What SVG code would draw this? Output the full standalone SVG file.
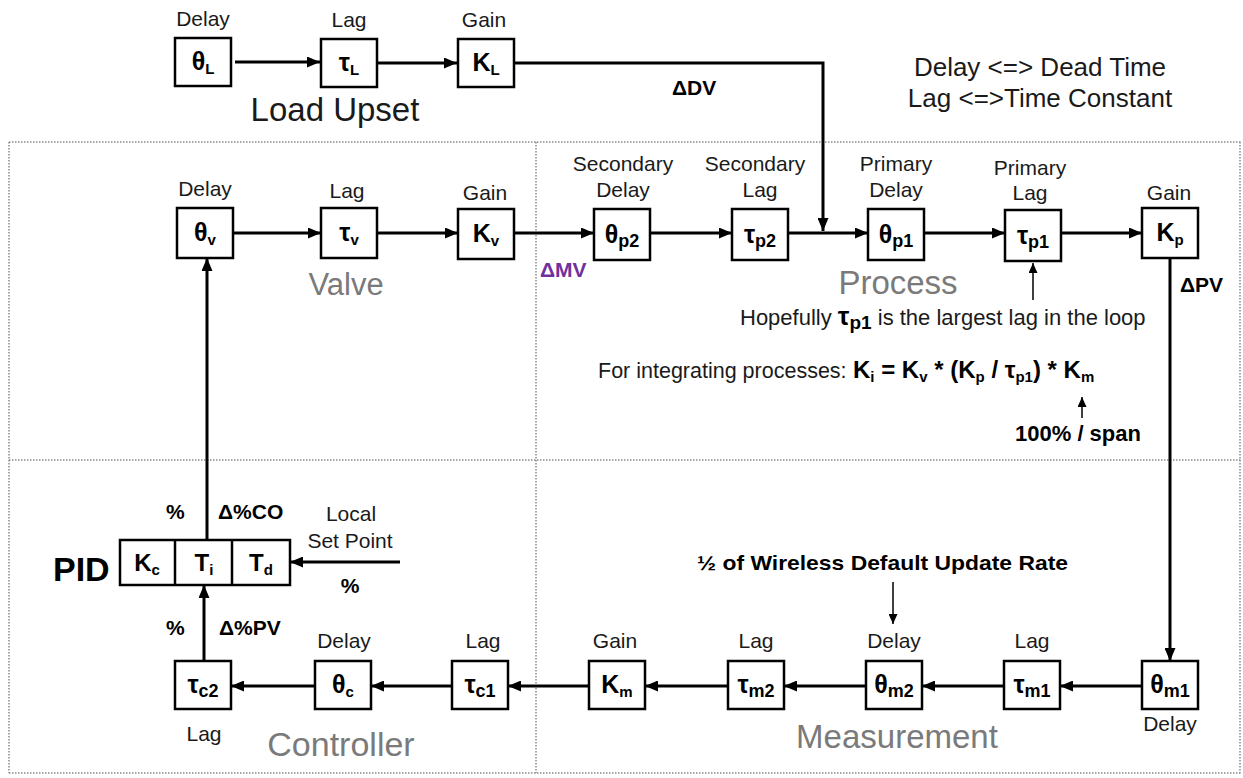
<svg xmlns="http://www.w3.org/2000/svg" width="1243" height="778" viewBox="0 0 1243 778">
<style>
text{font-family:"Liberation Sans",Arial,sans-serif;fill:#1a1a1a}
.lbl{font-size:21px;text-anchor:middle}
.big{font-size:33px;text-anchor:middle;fill:#7a7a7a}
.bold{font-weight:bold;font-size:21px;fill:#000}
.box{fill:#fff;stroke:#000;stroke-width:2.5}
.bx{font-weight:bold;font-size:25px;text-anchor:middle;fill:#000}
.sub{font-size:15px}
.s2{font-size:18px}
.fs{font-size:15px}
.conn{fill:none;stroke:#000;stroke-width:3}
.thin{fill:none;stroke:#000;stroke-width:1.5}
.dot{fill:none;stroke:#8a8a8a;stroke-width:1.5;stroke-dasharray:1.5 1.5}
.f{font-weight:bold;font-size:24px;fill:#000}
</style>
<defs>
<marker id="ah" markerUnits="userSpaceOnUse" markerWidth="13" markerHeight="11" refX="13" refY="5.5" orient="auto"><path d="M0,0 L13,5.5 L0,11 z" fill="#000"/></marker>
<marker id="th" markerUnits="userSpaceOnUse" markerWidth="10" markerHeight="9" refX="10" refY="4.5" orient="auto"><path d="M0,0 L10,4.5 L0,9 z" fill="#000"/></marker>
</defs>
<rect width="1243" height="778" fill="#fff"/>
<g id="borders">
<path class="dot" d="M9,142 H1241 M9,142 V773 M536,142 V773 M9,460 H1241 M9,773 H1241 M1240,142 V773"/>
</g>
<g id="connectors">
<path class="conn" marker-end="url(#ah)" d="M235,62 H320"/>
<path class="conn" marker-end="url(#ah)" d="M378,63 H457"/>
<path class="conn" marker-end="url(#ah)" d="M515,63 H823 V231"/>
<path class="conn" marker-end="url(#ah)" d="M233,233 H321"/>
<path class="conn" marker-end="url(#ah)" d="M377,233 H458"/>
<path class="conn" marker-end="url(#ah)" d="M514,233 H594"/>
<path class="conn" marker-end="url(#ah)" d="M650,233 H732"/>
<path class="conn" marker-end="url(#ah)" d="M788,233 H868"/>
<path class="conn" marker-end="url(#ah)" d="M924,233 H1005"/>
<path class="conn" marker-end="url(#ah)" d="M1061,233 H1142"/>
<path class="conn" marker-end="url(#ah)" d="M1170,258 V661"/>
<path class="conn" marker-end="url(#ah)" d="M1142,686 H1060"/>
<path class="conn" marker-end="url(#ah)" d="M1004,686 H922"/>
<path class="conn" marker-end="url(#ah)" d="M866,686 H784"/>
<path class="conn" marker-end="url(#ah)" d="M728,686 H645"/>
<path class="conn" marker-end="url(#ah)" d="M589,686 H508"/>
<path class="conn" marker-end="url(#ah)" d="M452,686 H371"/>
<path class="conn" marker-end="url(#ah)" d="M315,686 H231"/>
<path class="conn" marker-end="url(#ah)" d="M204,661 V585"/>
<path class="conn" marker-end="url(#ah)" d="M207,540 V258"/>
<path class="conn" marker-end="url(#ah)" d="M400,562 H290"/>
<path class="thin" marker-end="url(#th)" d="M1033,300 V263"/>
<path class="thin" marker-end="url(#th)" d="M1082,418 V397"/>
<path class="thin" marker-end="url(#th)" d="M893,582 V624"/>
</g>
<g id="load-upset">
<g id="thetaL"><rect class="box" x="175" y="38" width="56" height="48"/><text class="bx" x="203" y="70">θ<tspan class="sub" dy="4">L</tspan></text><text class="lbl" x="203" y="26">Delay</text></g>
<g id="tauL"><rect class="box" x="321" y="39" width="56" height="48"/><text class="bx" x="349" y="71">τ<tspan class="sub" dy="4">L</tspan></text><text class="lbl" x="349" y="27">Lag</text></g>
<g id="KL"><rect class="box" x="458" y="39" width="56" height="48"/><text class="bx" x="486" y="71">K<tspan class="sub" dy="4">L</tspan></text><text class="lbl" x="484" y="27">Gain</text></g>
<text x="335" y="121" style="font-size:33px;text-anchor:middle;fill:#1a1a1a">Load Upset</text>
<text class="bold" x="672" y="95">ΔDV</text>
<text x="1040" y="76" style="font-size:26px;text-anchor:middle">Delay &lt;=&gt; Dead Time</text>
<text x="1040" y="107" style="font-size:26px;text-anchor:middle">Lag &lt;=&gt;Time Constant</text>
</g>
<g id="valve">
<g id="thetaV"><rect class="box" x="177" y="208" width="56" height="50"/><text class="bx" x="205" y="241">θ<tspan class="sub" dy="4">v</tspan></text><text class="lbl" x="205" y="196">Delay</text></g>
<g id="tauV"><rect class="box" x="321" y="208" width="56" height="50"/><text class="bx" x="349" y="241">τ<tspan class="sub" dy="4">v</tspan></text><text class="lbl" x="347" y="198">Lag</text></g>
<g id="Kv"><rect class="box" x="458" y="209" width="56" height="50"/><text class="bx" x="486" y="242">K<tspan class="sub" dy="4">v</tspan></text><text class="lbl" x="485" y="200">Gain</text></g>
<text class="big" x="346" y="295" style="font-size:31px">Valve</text>
</g>
<g id="process">
<g id="thetaP2"><rect class="box" x="594" y="209" width="56" height="51"/><text class="bx" x="622" y="243">θ<tspan class="s2" dy="4">p2</tspan></text><text class="lbl" x="623" y="171">Secondary</text><text class="lbl" x="623" y="197">Delay</text></g>
<g id="tauP2"><rect class="box" x="732" y="209" width="56" height="51"/><text class="bx" x="760" y="243">τ<tspan class="s2" dy="4">p2</tspan></text><text class="lbl" x="755" y="171">Secondary</text><text class="lbl" x="760" y="197">Lag</text></g>
<g id="thetaP1"><rect class="box" x="868" y="209" width="56" height="51"/><text class="bx" x="896" y="243">θ<tspan class="s2" dy="4">p1</tspan></text><text class="lbl" x="896" y="171">Primary</text><text class="lbl" x="896" y="197">Delay</text></g>
<g id="tauP1"><rect class="box" x="1005" y="210" width="56" height="51"/><text class="bx" x="1033" y="244">τ<tspan class="s2" dy="4">p1</tspan></text><text class="lbl" x="1030" y="175">Primary</text><text class="lbl" x="1030" y="200">Lag</text></g>
<g id="Kp"><rect class="box" x="1142" y="208" width="56" height="50"/><text class="bx" x="1170" y="241">K<tspan class="sub" dy="4">p</tspan></text><text class="lbl" x="1169" y="200">Gain</text></g>
<text class="big" x="898" y="294">Process</text>
<text class="bold" x="540" y="277" style="fill:#7030a0">ΔMV</text>
<text class="bold" x="1180" y="292">ΔPV</text>
<text x="740" y="325" style="font-size:22px">Hopefully <tspan style="font-weight:bold;font-size:26px;fill:#000">τ</tspan><tspan style="font-weight:bold;font-size:19px;fill:#000" dy="4">p1</tspan><tspan dy="-4"> is the largest lag in the loop</tspan></text>
<text x="598" y="378" style="font-size:21.5px">For integrating processes:</text>
<text class="f" x="853" y="378">K<tspan class="fs" dy="4">i</tspan><tspan dy="-4"> = K</tspan><tspan class="fs" dy="4">v</tspan><tspan dy="-4"> * (K</tspan><tspan class="fs" dy="4">p</tspan><tspan dy="-4"> / τ</tspan><tspan class="fs" dy="4">p1</tspan><tspan dy="-4">) * K</tspan><tspan class="fs" dy="4">m</tspan></text>
<text class="bold" x="1015" y="441" style="font-size:22px">100% / span</text>
</g>
<g id="controller">
<g id="PID">
<rect class="box" x="120" y="540" width="170" height="45"/>
<path d="M175,540 V585 M232,540 V585" stroke="#000" stroke-width="2.5"/>
<text class="bx" x="147" y="571" style="font-size:24px">K<tspan class="sub" dy="4">c</tspan></text>
<text class="bx" x="204" y="571" style="font-size:24px">T<tspan class="sub" dy="4">i</tspan></text>
<text class="bx" x="261" y="571" style="font-size:24px">T<tspan class="sub" dy="4">d</tspan></text>
<text x="53" y="581" style="font-size:34px;font-weight:bold;fill:#000">PID</text>
</g>
<text class="bold" x="166" y="519">%</text>
<text class="bold" x="218" y="519">Δ%CO</text>
<text class="lbl" x="351" y="521">Local</text>
<text class="lbl" x="350" y="548">Set Point</text>
<text class="bold" x="350" y="593" style="text-anchor:middle">%</text>
<text class="bold" x="166" y="635">%</text>
<text class="bold" x="219" y="635">Δ%PV</text>
<g id="tauC2"><rect class="box" x="175" y="661" width="56" height="48"/><text class="bx" x="203" y="693">τ<tspan class="s2" dy="4">c2</tspan></text><text class="lbl" x="204" y="741">Lag</text></g>
<g id="thetaC"><rect class="box" x="315" y="661" width="56" height="48"/><text class="bx" x="343" y="693">θ<tspan class="sub" dy="4">c</tspan></text><text class="lbl" x="344" y="648">Delay</text></g>
<g id="tauC1"><rect class="box" x="452" y="661" width="56" height="48"/><text class="bx" x="480" y="693">τ<tspan class="s2" dy="4">c1</tspan></text><text class="lbl" x="483" y="648">Lag</text></g>
<text class="big" x="341" y="756" style="font-size:34px">Controller</text>
</g>
<g id="measurement">
<g id="Km"><rect class="box" x="589" y="661" width="56" height="48"/><text class="bx" x="617" y="693">K<tspan class="sub" dy="4">m</tspan></text><text class="lbl" x="615" y="648">Gain</text></g>
<g id="tauM2"><rect class="box" x="728" y="661" width="56" height="48"/><text class="bx" x="756" y="693">τ<tspan class="s2" dy="4">m2</tspan></text><text class="lbl" x="756" y="648">Lag</text></g>
<g id="thetaM2"><rect class="box" x="866" y="661" width="56" height="48"/><text class="bx" x="894" y="693">θ<tspan class="s2" dy="4">m2</tspan></text><text class="lbl" x="894" y="648">Delay</text></g>
<g id="tauM1"><rect class="box" x="1004" y="661" width="56" height="48"/><text class="bx" x="1032" y="693">τ<tspan class="s2" dy="4">m1</tspan></text><text class="lbl" x="1032" y="648">Lag</text></g>
<g id="thetaM1"><rect class="box" x="1142" y="661" width="56" height="48"/><text class="bx" x="1170" y="693">θ<tspan class="s2" dy="4">m1</tspan></text><text class="lbl" x="1170" y="731">Delay</text></g>
<text class="big" x="897" y="748">Measurement</text>
<text class="bold" x="697" y="570" textLength="371" lengthAdjust="spacingAndGlyphs">½ of Wireless Default Update Rate</text>
</g>
</svg>
